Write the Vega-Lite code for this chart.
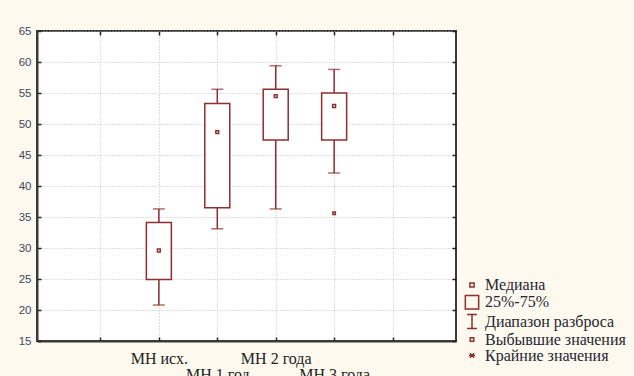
{
  "$schema": "https://vega.github.io/schema/vega-lite/v6.json",
  "width": 419,
  "height": 310,
  "autosize": {"type": "none"},
  "padding": {"left": 37, "top": 31, "right": 178, "bottom": 35},
  "background": "#fdf9ee",
  "config": {
    "view": {"fill": "white", "stroke": "#3a3a3a", "strokeWidth": 2}
  },
  "datasets": {
    "boxes": [
      {"g": 2, "label": "МН исх.", "min": 20.8, "q1": 24.9, "med": 29.6, "q3": 34.1, "max": 36.3},
      {"g": 3, "label": "МН 1 год", "min": 33.1, "q1": 36.5, "med": 48.7, "q3": 53.3, "max": 55.6},
      {"g": 4, "label": "МН 2 года", "min": 36.3, "q1": 47.4, "med": 54.5, "q3": 55.6, "max": 59.4},
      {"g": 5, "label": "МН 3 года", "min": 42.1, "q1": 47.4, "med": 52.9, "q3": 55.0, "max": 58.8}
    ],
    "points": [
      {"g": 2, "v": 29.6, "kind": "Медиана"},
      {"g": 3, "v": 48.7, "kind": "Медиана"},
      {"g": 4, "v": 54.5, "kind": "Медиана"},
      {"g": 5, "v": 52.9, "kind": "Медиана"},
      {"g": 5, "v": 35.6, "kind": "Выбывшие значения"}
    ]
  },
  "layer": [
    {
      "data": {"name": "boxes"},
      "mark": {"type": "rule", "stroke": "#8c2f2f", "strokeWidth": 1.5},
      "encoding": {
        "x": {
          "field": "g", "type": "quantitative",
          "scale": {"domain": [0, 7], "nice": false, "zero": false},
          "axis": {
            "orient": "bottom", "title": null, "values": [1, 2, 3, 4, 5, 6],
            "labelExpr": "datum.value == 2 ? 'МН исх.' : datum.value == 3 ? 'МН 1 год' : datum.value == 4 ? 'МН 2 года' : datum.value == 5 ? 'МН 3 года' : ''",
            "labelFont": "Liberation Serif", "labelFontSize": 16, "labelColor": "#222222",
            "labelBaseline": "top", "labelOverlap": false, "labelFlush": false,
            "labelPadding": {"condition": {"test": "datum.value == 3 || datum.value == 5", "value": 29}, "value": 13},
            "domain": true, "domainColor": "#3a3a3a", "domainWidth": 2,
            "ticks": true, "tickSize": -4, "tickColor": "#222222", "tickWidth": 1.5,
            "grid": true, "gridColor": "#bdbdbd", "gridDash": [1, 2], "gridWidth": 1
          }
        },
        "y": {
          "field": "min", "type": "quantitative",
          "scale": {"domain": [15, 65], "nice": false, "zero": false},
          "axis": {
            "orient": "left", "title": null, "values": [15, 20, 25, 30, 35, 40, 45, 50, 55, 60, 65],
            "labelFont": "Liberation Sans", "labelFontSize": 11.5, "labelColor": "#3d475c",
            "labelPadding": 10,
            "domain": true, "domainColor": "#3a3a3a", "domainWidth": 2,
            "ticks": true, "tickSize": -4, "tickColor": "#222222", "tickWidth": 1.5,
            "grid": true, "gridColor": "#bdbdbd", "gridDash": [1, 2], "gridWidth": 1
          }
        },
        "y2": {"field": "max"}
      }
    },
    {
      "data": {"name": "boxes"},
      "mark": {"type": "tick", "orient": "horizontal", "size": 12, "thickness": 1.5, "color": "#8c2f2f"},
      "encoding": {
        "x": {
          "field": "g", "type": "quantitative",
          "axis": {
            "orient": "top", "title": null, "values": [1, 2, 3, 4, 5, 6], "labels": false,
            "domain": false, "ticks": true, "tickSize": -4, "tickColor": "#222222", "tickWidth": 1.5, "grid": false
          }
        },
        "y": {
          "field": "min", "type": "quantitative",
          "axis": {
            "orient": "right", "title": null, "values": [15, 20, 25, 30, 35, 40, 45, 50, 55, 60, 65], "labels": false,
            "domain": false, "ticks": true, "tickSize": -4, "tickColor": "#222222", "tickWidth": 1.5, "grid": false
          }
        }
      }
    },
    {
      "data": {"name": "boxes"},
      "mark": {"type": "tick", "orient": "horizontal", "size": 12, "thickness": 1.5, "color": "#8c2f2f"},
      "encoding": {
        "x": {"field": "g", "type": "quantitative", "axis": null},
        "y": {"field": "max", "type": "quantitative", "axis": null}
      }
    },
    {
      "data": {"name": "boxes"},
      "mark": {"type": "bar", "size": 25, "fill": "white", "stroke": "#8c2f2f", "strokeWidth": 1.5},
      "encoding": {
        "x": {"field": "g", "type": "quantitative", "axis": null},
        "y": {"field": "q1", "type": "quantitative", "axis": null},
        "y2": {"field": "q3"}
      }
    },
    {
      "data": {"name": "points"},
      "mark": {"type": "point", "filled": false, "stroke": "#8c2f2f", "strokeWidth": 1.5, "size": 90, "opacity": 1},
      "encoding": {
        "x": {"field": "g", "type": "quantitative", "axis": null},
        "y": {"field": "v", "type": "quantitative", "axis": null},
        "shape": {
          "field": "kind", "type": "nominal",
          "scale": {
            "domain": ["Медиана", "25%-75%", "Диапазон разброса", "Выбывшие значения", "Крайние значения"],
            "range": [
              "M-0.3,-0.3H0.3V0.3H-0.3Z",
              "M-0.95,-0.95H0.95V0.95H-0.95Z",
              "M-0.7,-1H0.7M0,-1V1M-0.7,1H0.7",
              "M-0.25,-0.25H0.25V0.25H-0.25Z",
              "M-0.3,-0.3L0.3,0.3M-0.3,0.3L0.3,-0.3M-0.4,0H0.4"
            ]
          },
          "legend": {
            "title": null, "orient": "none", "legendX": 427, "legendY": 246, "padding": 0,
            "symbolSize": 196, "symbolStrokeColor": "#8c2f2f", "symbolFillColor": "transparent",
            "symbolStrokeWidth": 1.5, "symbolOpacity": 1,
            "labelFont": "Liberation Serif", "labelFontSize": 16, "labelColor": "#262633",
            "labelOffset": 5, "rowPadding": -0.75, "labelLimit": 300
          }
        }
      }
    }
  ],
  "resolve": {"axis": {"x": "independent", "y": "independent"}}
}
